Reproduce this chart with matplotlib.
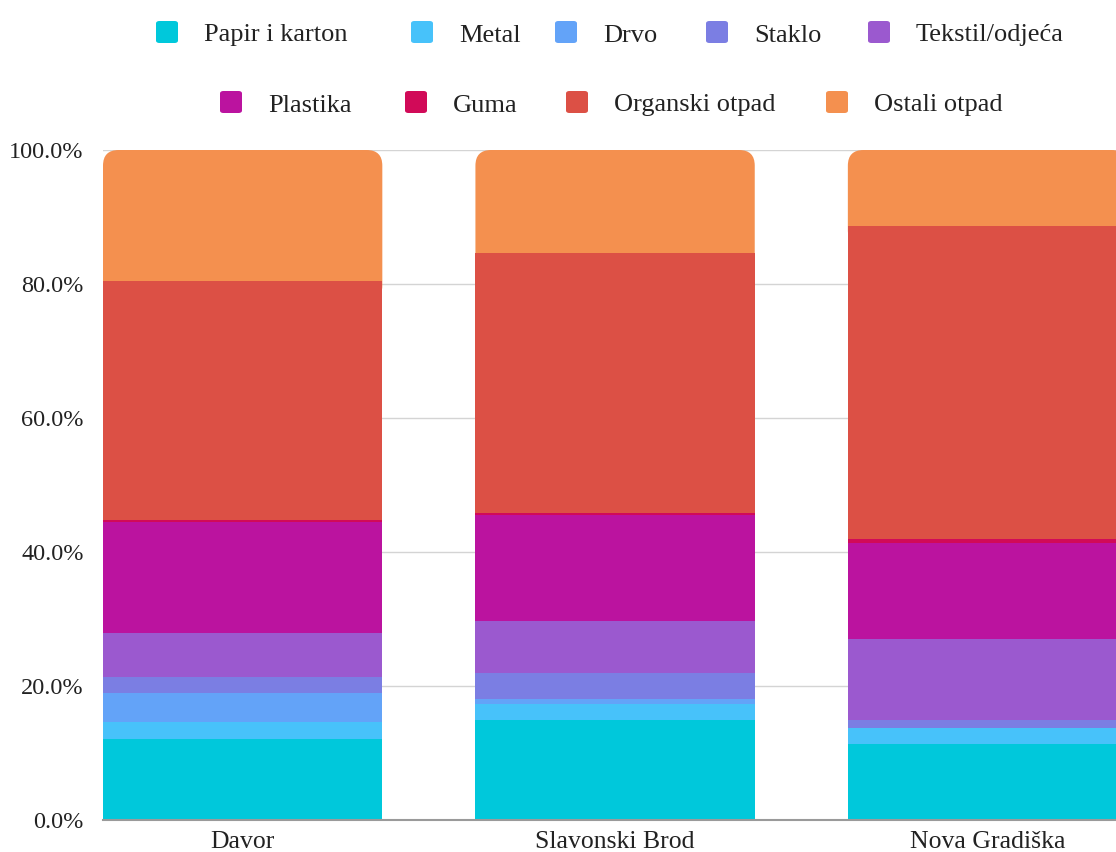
import matplotlib
matplotlib.use('Agg')
import matplotlib.pyplot as plt
from matplotlib.patches import FancyBboxPatch
from matplotlib.ticker import FuncFormatter

plt.rcParams['font.family'] = ['Liberation Serif', 'DejaVu Serif']

cities = ['Davor', 'Slavonski Brod', 'Nova Gradiška']
categories = ['Papir i karton', 'Metal', 'Drvo', 'Staklo', 'Tekstil/odjeća',
              'Plastika', 'Guma', 'Organski otpad', 'Ostali otpad']
colors = ['#00C8DB', '#47C2FA', '#63A3F8', '#7B7EE3', '#9B59CF',
          '#BB139F', '#D10A58', '#DC5045', '#F4904F']

# shares in % per city (Davor, Slavonski Brod, Nova Gradiška)
papir = [12.1, 15.0, 11.3]
metal = [2.5, 2.3, 2.4]
drvo = [4.4, 0.8, 0.0]
staklo = [2.3, 3.9, 1.3]
tekstil = [6.6, 7.7, 12.0]
plastika = [16.6, 15.8, 14.4]
guma = [0.3, 0.3, 0.6]
organski = [35.6, 38.8, 46.7]
ostali = [19.6, 15.4, 11.3]
series = [papir, metal, drvo, staklo, tekstil, plastika, guma, organski, ostali]

fig = plt.figure(figsize=(11.16, 8.52), dpi=100)
ax = fig.add_axes([103 / 1116, 32 / 852, 1 - 103 / 1116, 670 / 852])

x = list(range(len(cities)))
width = 0.75
bottom = [0.0] * len(cities)
for i, (vals, col) in enumerate(zip(series, colors)):
    last = i == len(series) - 1
    bars = ax.bar(x, vals, width, bottom=bottom, color=col, linewidth=0,
                  zorder=2 if last else 3)
    if last:
        # rounded top corners for the top segment
        for r in bars.patches:
            bx, by = r.get_x(), r.get_y()
            bw, bh = r.get_width(), r.get_height()
            r.remove()
            aspect = (100 / 670) / (1 / 372.5)
            p = FancyBboxPatch((bx, by - 3), bw, bh + 3,
                               boxstyle='round,pad=0,rounding_size=0.042',
                               mutation_aspect=aspect, facecolor=col,
                               linewidth=0, zorder=2)
            ax.add_patch(p)
    bottom = [b + v for b, v in zip(bottom, vals)]

ax.set_xlim(-0.375, 2.345)
ax.set_ylim(0, 100)
ax.set_yticks([0, 20, 40, 60, 80, 100])
ax.yaxis.set_major_formatter(FuncFormatter(lambda v, p: '%.1f%%' % v))
ax.set_xticks(x)
ax.set_xticklabels(cities)
ax.tick_params(axis='y', length=0, pad=14, labelsize=17.5, colors='#222222')
ax.tick_params(axis='x', length=0, pad=8, labelsize=18.5, colors='#222222')
ax.grid(axis='y', color='#d4d4d4', linewidth=1, zorder=0)
ax.set_axisbelow(True)
for s in ['top', 'right', 'left']:
    ax.spines[s].set_visible(False)
ax.spines['bottom'].set_color('#9a9a9a')
ax.spines['bottom'].set_linewidth(1.5)
ax.spines['bottom'].set_zorder(4)

# legend laid out in two centred rows
row1 = [(156, 0), (411, 1), (555, 2), (706, 3), (868, 4)]
row2 = [(220, 5), (405, 6), (566, 7), (826, 8)]
W, H = 1116, 852
for yc, row in [(32, row1), (102, row2)]:
    for px, k in row:
        m = FancyBboxPatch((px / W, (H - yc - 11) / H), 22 / W, 22 / H,
                           boxstyle='round,pad=0,rounding_size=0.003',
                           transform=fig.transFigure, facecolor=colors[k],
                           linewidth=0)
        fig.patches.append(m)
        fig.text((px + 48) / W, (H - yc - 1) / H, categories[k], fontsize=19,
                 va='center_baseline', ha='left', color='#222222')

fig.savefig('out.png', dpi=100)
